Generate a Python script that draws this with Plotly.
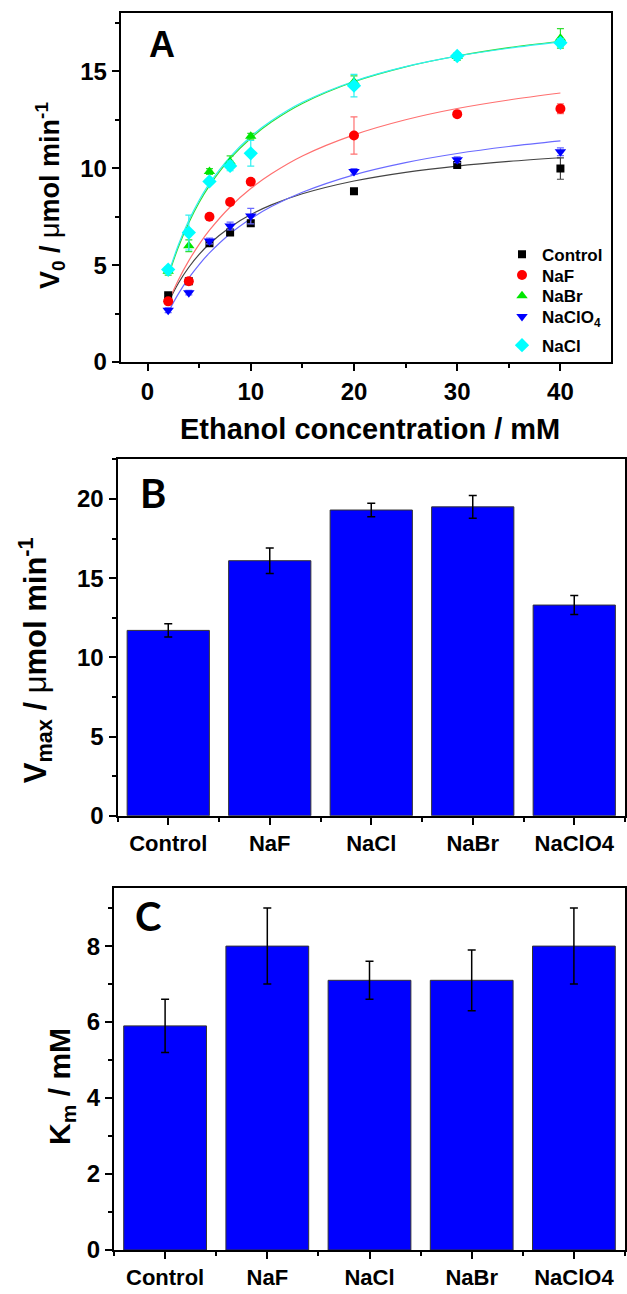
import plotly.graph_objects as go

W, H = 627, 1294

# ---------------- Panel A data ----------------
conc = [2, 4, 6, 8, 10, 20, 30, 40]
v_control = [3.44, 4.17, 6.13, 6.68, 7.16, 8.81, 10.17, 9.98]
e_control = [0.1, 0.1, 0.12, 0.15, 0.15, 0.12, 0.12, 0.55]
v_naf = [3.13, 4.17, 7.50, 8.26, 9.30, 11.69, 12.79, 13.07]
e_naf = [0.12, 0.12, 0.15, 0.12, 0.12, 0.96, 0.12, 0.25]
v_nabr = [4.68, 6.00, 9.83, 10.34, 11.65, 14.46, 15.76, 16.70]
e_nabr = [0.2, 0.3, 0.15, 0.3, 0.15, 0.3, 0.2, 0.5]
v_naclo4 = [2.67, 3.58, 6.25, 7.02, 7.53, 9.83, 10.44, 10.85]
e_naclo4 = [0.12, 0.12, 0.15, 0.2, 0.4, 0.15, 0.15, 0.2]
v_nacl = [4.77, 6.68, 9.32, 10.12, 10.77, 14.26, 15.79, 16.47]
e_nacl = [0.15, 0.9, 0.15, 0.25, 0.66, 0.58, 0.1, 0.2]

# fitted curves
fit_x = [2, 3, 4, 5, 6, 8, 10, 12, 15, 20, 25, 30, 35, 40]
fit_control = [3.06, 4.08, 4.89, 5.55, 6.10, 6.96, 7.61, 8.11, 8.68, 9.34, 9.79, 10.11, 10.35, 10.54]
fit_naf = [3.09, 4.25, 5.23, 6.07, 6.80, 8.00, 8.95, 9.71, 10.63, 11.72, 12.50, 13.08, 13.52, 13.88]
fit_nabr = [4.42, 5.95, 7.19, 8.23, 9.10, 10.49, 11.55, 12.38, 13.34, 14.46, 15.23, 15.79, 16.22, 16.55]
fit_nacl = [4.52, 6.06, 7.31, 8.35, 9.22, 10.59, 11.64, 12.45, 13.40, 14.49, 15.24, 15.78, 16.19, 16.52]
fit_naclo4 = [2.57, 3.53, 4.34, 5.03, 5.63, 6.62, 7.39, 8.02, 8.76, 9.66, 10.29, 10.76, 11.12, 11.41]

# ---------------- Panels B, C data ----------------
salts = ["Control", "NaF", "NaCl", "NaBr", "NaClO4"]
vmax = [11.7, 16.1, 19.3, 19.5, 13.3]
vmax_err = [0.42, 0.81, 0.42, 0.72, 0.6]
km = [5.9, 8.0, 7.1, 7.1, 8.0]
km_err = [0.7, 1.0, 0.5, 0.8, 1.0]

FONT = "Liberation Sans, Arial, sans-serif"

def P(px, py):
    return px / W, 1 - py / H

fig = go.Figure()

series = [
    ("Control", v_control, e_control, fit_control, "square", "#000000", "#444444", 8),
    ("NaF", v_naf, e_naf, fit_naf, "circle", "#ff0000", "#ff7070", 10),
    ("NaBr", v_nabr, e_nabr, fit_nabr, "triangle-up", "#00e600", "#33dd33", 10),
    ("NaClO<sub>4</sub>", v_naclo4, e_naclo4, fit_naclo4, "triangle-down", "#0000ff", "#6a6aff", 10),
    ("NaCl", v_nacl, e_nacl, fit_nacl, "diamond", "#00ffff", "#30f0f0", 11),
]
legend_ids = ["legend", "legend2", "legend3", "legend4", "legend5"]
legend_tops = [239, 260, 281, 302, 331]

for name, v, e, f, sym, col, lcol, ms in series:
    fig.add_trace(go.Scatter(x=fit_x, y=f, mode="lines", line=dict(color=lcol, width=1.2, shape="spline"),
                             showlegend=False, hoverinfo="skip", xaxis="x", yaxis="y"))

for i, (name, v, e, f, sym, col, lcol, ms) in enumerate(series):
    fig.add_trace(go.Scatter(x=conc, y=v, mode="markers", name=name, legend=legend_ids[i],
                             marker=dict(symbol=sym, color=col, size=ms, line=dict(width=0)),
                             error_y=dict(type="data", array=e, color=lcol, thickness=1.2, width=3.5),
                             xaxis="x", yaxis="y"))

fig.add_trace(go.Bar(x=list(range(len(salts))), y=vmax, width=0.81, marker_color="#0000ff",
                     marker_line=dict(color="#333333", width=1),
                     error_y=dict(type="data", array=vmax_err, color="black", thickness=1.5, width=4),
                     xaxis="x2", yaxis="y2", showlegend=False))
fig.add_trace(go.Bar(x=list(range(len(salts))), y=km, width=0.81, marker_color="#0000ff",
                     marker_line=dict(color="#333333", width=1),
                     error_y=dict(type="data", array=km_err, color="black", thickness=1.5, width=4),
                     xaxis="x3", yaxis="y3", showlegend=False))

ax_common = dict(showline=True, linewidth=2, linecolor="black", mirror=True, ticks="outside",
                 ticklen=7, tickwidth=2, tickcolor="black", showgrid=False, zeroline=False,
                 tickfont=dict(family=FONT, size=24, color="black", weight="bold"))
cat_font = dict(family=FONT, size=22, color="black", weight="bold")

def minor(dt, t0=0):
    return dict(ticks="outside", ticklen=4, tickwidth=2, tickcolor="black", dtick=dt, tick0=t0, showgrid=False)

legend_layout = {}
for lid, top in zip(legend_ids, legend_tops):
    legend_layout[lid] = dict(x=502 / W, y=1 - top / H, xanchor="left", yanchor="top",
                              bgcolor="rgba(0,0,0,0)",
                              font=dict(family=FONT, size=17, color="black", weight="bold"),
                              itemwidth=30)

fig.update_layout(
    width=W, height=H, margin=dict(l=0, r=0, t=0, b=0),
    paper_bgcolor="white", plot_bgcolor="white",
    xaxis=dict(domain=[120.7 / W, 611 / W], anchor="y", range=[-2.6, 44.9],
               tickvals=[0, 10, 20, 30, 40], minor=minor(5), **ax_common),
    yaxis=dict(domain=[1 - 365.7 / H, 1 - 13.3 / H], anchor="x", range=[0, 18],
               tickvals=[0, 5, 10, 15], minor=minor(2.5), **ax_common),
    xaxis2=dict(domain=[117.5 / W, 625 / W], anchor="y2", range=[-0.5, 4.5],
                tickvals=list(range(len(salts))), ticktext=salts, minor=minor(1, 0.5),
                **{**ax_common, "tickfont": cat_font}),
    yaxis2=dict(domain=[1 - 824 / H, 1 - 464 / H], anchor="x2", range=[0, 22.5],
                tickvals=[0, 5, 10, 15, 20], minor=minor(2.5), **ax_common),
    xaxis3=dict(domain=[114 / W, 625 / W], anchor="y3", range=[-0.5, 4.5],
                tickvals=list(range(len(salts))), ticktext=salts, minor=minor(1, 0.5),
                **{**ax_common, "tickfont": cat_font}),
    yaxis3=dict(domain=[1 - 1262.7 / H, 1 - 897 / H], anchor="x3", range=[0, 9.53],
                tickvals=[0, 2, 4, 6, 8], minor=minor(1), **ax_common),
    bargap=0.2,
    **legend_layout,
)

ann = []
def add_text(text, px, py, size, angle=0, family=FONT):
    x, y = P(px, py)
    ann.append(dict(text=text, x=x, y=y, xref="paper", yref="paper", showarrow=False,
                    xanchor="center", yanchor="middle", textangle=angle,
                    font=dict(family=family, size=size, color="black")))

add_text("<b>A</b>", 162, 45, 36)
add_text("<b>B</b>", 153, 498, 40, family="Lato, Open Sans, sans-serif")
add_text("<b>C</b>", 148, 925, 40, family="Lato, Open Sans, sans-serif")
add_text("<b>Ethanol concentration / mM</b>", 370, 433, 29)
add_text("<b>V<sub>0</sub> / </b>μ<b>mol min<sup>-1</sup></b>", 50, 198, 27, angle=-90)
add_text("<b>V<sub>max</sub> / </b>μ<b>mol min<sup>-1</sup></b>", 35, 667, 31, angle=-90)
add_text("<b>K<sub>m</sub> / mM</b>", 62, 1097, 30, angle=-90)
fig.update_layout(annotations=ann)

fig.write_html("out.html")
